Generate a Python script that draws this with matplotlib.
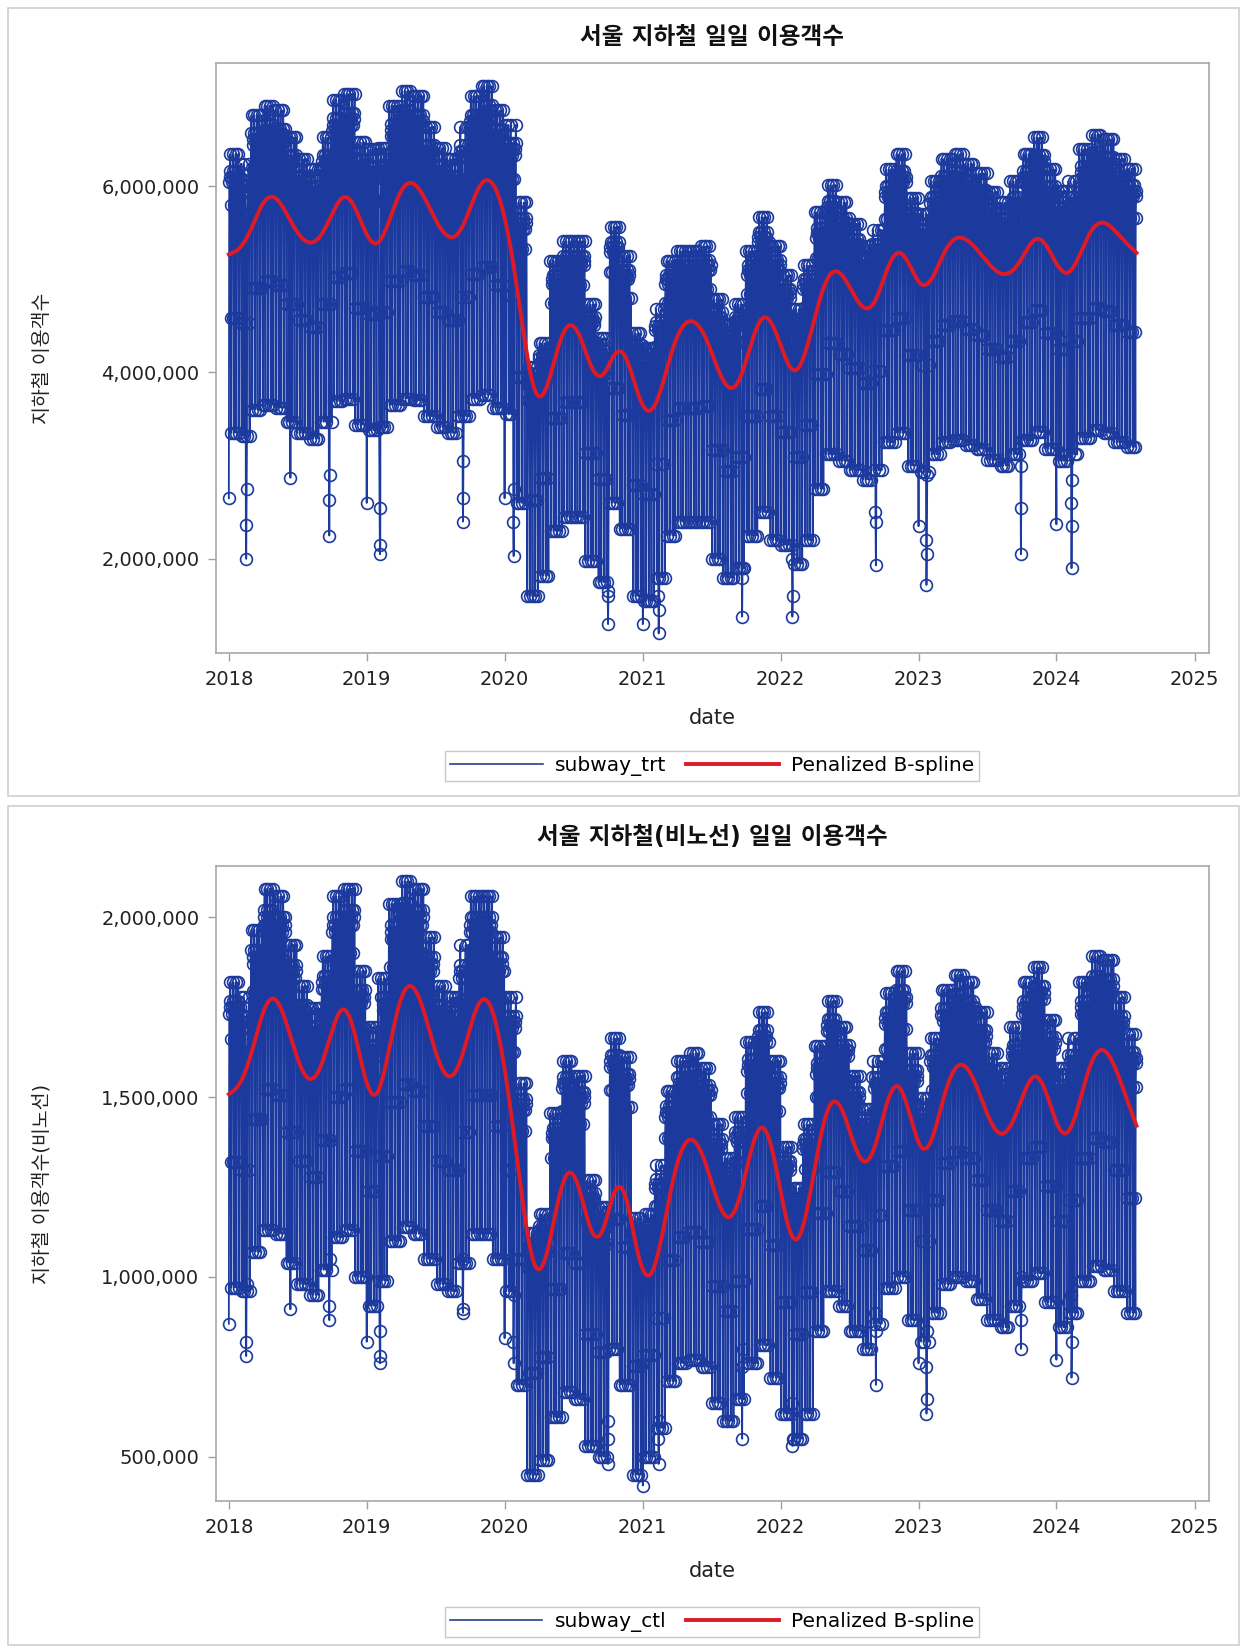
import numpy as np
import matplotlib
matplotlib.use("Agg")
import matplotlib.pyplot as plt
from matplotlib.ticker import FuncFormatter
from matplotlib.patches import Rectangle
from matplotlib.lines import Line2D

plt.rcParams['font.family'] = ['DejaVu Sans', 'Noto Sans CJK KR']

# daily records, 2018-01-01 .. 2024-07-31
dates = np.arange('2018-01-01', '2024-08-01', dtype='datetime64[D]')

# monthly weekday (Tue-Thu) and Sunday levels, millions of riders
trt_weekday = [
    6.10, 6.00, 6.50, 6.60, 6.55, 6.27, 6.05, 5.94, 6.27, 6.66, 6.72, 6.22,
    6.15, 6.16, 6.60, 6.75, 6.70, 6.38, 6.16, 6.05, 6.38, 6.70, 6.80, 6.55,
    6.40, 5.60, 3.90, 4.15, 5.00, 5.20, 5.20, 4.55, 4.20, 5.35, 5.05, 4.25,
    4.10, 4.50, 5.00, 5.10, 5.10, 5.15, 4.60, 4.35, 4.55, 5.10, 5.45, 5.15,
    4.85, 4.50, 4.95, 5.50, 5.78, 5.60, 5.38, 5.15, 5.32, 5.94, 6.10, 5.65,
    5.48, 5.82, 6.05, 6.10, 6.00, 5.90, 5.71, 5.60, 5.82, 6.10, 6.27, 5.94,
    5.72, 5.82, 6.15, 6.30, 6.25, 6.05, 5.95,
]
trt_sunday = [
    3.35, 3.32, 3.60, 3.65, 3.62, 3.47, 3.35, 3.29, 3.47, 3.69, 3.72, 3.44,
    3.38, 3.41, 3.65, 3.72, 3.70, 3.53, 3.41, 3.35, 3.53, 3.72, 3.76, 3.62,
    3.55, 2.60, 1.60, 1.82, 2.30, 2.45, 2.45, 1.98, 1.75, 2.60, 2.32, 1.60,
    1.55, 1.80, 2.25, 2.40, 2.40, 2.40, 2.00, 1.80, 1.90, 2.25, 2.50, 2.20,
    2.15, 1.95, 2.20, 2.75, 3.12, 3.05, 2.95, 2.85, 2.95, 3.25, 3.35, 3.00,
    2.93, 3.12, 3.25, 3.28, 3.22, 3.18, 3.06, 3.00, 3.12, 3.27, 3.36, 3.18,
    3.05, 3.12, 3.30, 3.38, 3.35, 3.25, 3.20,
]
ctl_weekday = [
    1.75, 1.71, 1.89, 2.00, 1.98, 1.85, 1.74, 1.68, 1.82, 1.98, 2.00, 1.78,
    1.63, 1.76, 1.96, 2.02, 2.00, 1.87, 1.74, 1.71, 1.85, 1.98, 1.98, 1.87,
    1.71, 1.48, 1.08, 1.13, 1.40, 1.54, 1.50, 1.22, 1.15, 1.60, 1.55, 1.12,
    1.13, 1.26, 1.46, 1.54, 1.56, 1.52, 1.37, 1.28, 1.39, 1.59, 1.67, 1.54,
    1.31, 1.20, 1.37, 1.58, 1.70, 1.63, 1.50, 1.41, 1.54, 1.72, 1.78, 1.56,
    1.44, 1.60, 1.73, 1.77, 1.75, 1.67, 1.56, 1.52, 1.63, 1.75, 1.79, 1.65,
    1.52, 1.60, 1.75, 1.82, 1.81, 1.71, 1.61,
]
ctl_sunday = [
    0.97, 0.96, 1.07, 1.13, 1.12, 1.04, 0.98, 0.95, 1.02, 1.11, 1.13, 1.00,
    0.92, 0.99, 1.10, 1.14, 1.12, 1.05, 0.98, 0.96, 1.04, 1.12, 1.12, 1.05,
    0.96, 0.70, 0.45, 0.49, 0.61, 0.68, 0.66, 0.53, 0.50, 0.80, 0.70, 0.45,
    0.50, 0.58, 0.71, 0.76, 0.77, 0.75, 0.65, 0.60, 0.66, 0.76, 0.81, 0.72,
    0.62, 0.55, 0.62, 0.85, 0.96, 0.92, 0.85, 0.80, 0.87, 0.97, 1.00, 0.88,
    0.82, 0.90, 0.98, 1.00, 0.99, 0.94, 0.88, 0.86, 0.92, 0.99, 1.01, 0.93,
    0.86, 0.90, 0.99, 1.03, 1.02, 0.96, 0.90,
]

# Mon..Fri relative to the weekday level; Saturday sits between weekday and Sunday
weekday_factor = [0.95, 0.99, 1.00, 1.01, 1.04]
saturday_share = 0.45

# public holidays (New Year, Seollal, Chuseok, ...)
holiday_dates = [
    '2018-01-01', '2018-02-15', '2018-02-16', '2018-02-17', '2018-06-13',
    '2018-09-23', '2018-09-24', '2018-09-25', '2019-01-01', '2019-02-04',
    '2019-02-05', '2019-02-06', '2019-09-12', '2019-09-13', '2019-09-14',
    '2020-01-01', '2020-01-24', '2020-01-25', '2020-01-26', '2020-09-30',
    '2020-10-01', '2020-10-02', '2021-01-01', '2021-02-11', '2021-02-12',
    '2021-02-13', '2021-09-20', '2021-09-21', '2021-09-22', '2022-01-31',
    '2022-02-01', '2022-02-02', '2022-09-09', '2022-09-10', '2022-09-11',
    '2023-01-01', '2023-01-21', '2023-01-22', '2023-01-23', '2023-01-24',
    '2023-09-28', '2023-09-29', '2023-09-30', '2024-01-01', '2024-02-09',
    '2024-02-10', '2024-02-11', '2024-02-12',
]
trt_holiday = [
    2.65, 2.36, 2.00, 2.75, 2.87,
    2.63, 2.25, 2.90, 2.60, 2.55,
    2.05, 2.15, 2.65, 2.40, 3.05,
    2.65, 2.40, 2.03, 2.75, 1.60,
    1.30, 1.65, 1.30, 1.60, 1.20,
    1.45, 1.80, 1.38, 1.90, 2.00,
    1.38, 1.60, 2.50, 1.93, 2.40,
    2.35, 2.20, 1.72, 2.05, 2.90,
    3.00, 2.05, 2.55, 2.37, 2.60,
    1.90, 2.35, 2.85,
]
ctl_holiday = [
    0.87, 0.82, 0.78, 0.98, 0.91,
    0.92, 0.88, 1.05, 0.82, 0.85,
    0.76, 0.78, 0.91, 0.90, 1.05,
    0.83, 0.82, 0.76, 0.95, 0.55,
    0.48, 0.60, 0.42, 0.55, 0.48,
    0.60, 0.75, 0.55, 0.80, 0.65,
    0.53, 0.55, 0.90, 0.70, 0.85,
    0.76, 0.75, 0.62, 0.66, 0.85,
    1.00, 0.80, 0.88, 0.77, 0.95,
    0.72, 0.82, 0.90,
]

BLUE = '#1c3a9e'
RED = '#e01a24'


def build_daily(weekday, sunday, holidays):
    mi = (dates.astype('datetime64[M]') - np.datetime64('2018-01', 'M')).astype(int)
    dow = (dates.astype('int64') + 3) % 7
    wk = np.array(weekday)[mi] * 1e6
    su = np.array(sunday)[mi] * 1e6
    y = np.empty(len(dates))
    for d in range(5):
        m = dow == d
        y[m] = wk[m] * weekday_factor[d]
    m = dow == 5
    y[m] = su[m] + saturday_share * (wk[m] - su[m])
    m = dow == 6
    y[m] = su[m]
    idx = (np.array(holiday_dates, dtype='datetime64[D]') - dates[0]).astype(int)
    y[idx] = np.array(holidays) * 1e6
    return y


def bspline_basis(x, xl, xr, nseg, deg=3):
    dx = (xr - xl) / nseg
    knots = xl + dx * np.arange(-deg, nseg + deg + 1)
    B = ((x[:, None] >= knots[None, :-1]) & (x[:, None] < knots[None, 1:])).astype(float)
    for k in range(1, deg + 1):
        left = (x[:, None] - knots[None, :-(k + 1)]) / (knots[k:-1] - knots[:-(k + 1)])
        right = (knots[None, k + 1:] - x[:, None]) / (knots[k + 1:] - knots[1:-k])
        B = left * B[:, :-1] + right * B[:, 1:]
    return B


def pbspline(y, nseg=80, lam=8.0):
    x = np.arange(len(y), dtype=float)
    B = bspline_basis(x, x[0], x[-1] + 1e-6, nseg)
    D = np.diff(np.eye(B.shape[1]), 2, axis=0)
    coef = np.linalg.solve(B.T @ B + lam * D.T @ D, B.T @ y)
    return B @ coef


W, H = 1245, 1652
fig = plt.figure(figsize=(W / 100, H / 100), dpi=100)

panels = [
    dict(title='서울 지하철 일일 이용객수', ylabel='지하철 이용객수', name='subway_trt',
         weekday=trt_weekday, sunday=trt_sunday, hol=trt_holiday,
         ylim=(0.99e6, 7.32e6), yticks=[2e6, 4e6, 6e6],
         border=(8, 8, 1239, 796), axes=(63, 653), title_y=37, date_y=718, legend_y=766),
    dict(title='서울 지하철(비노선) 일일 이용객수', ylabel='지하철 이용객수(비노선)', name='subway_ctl',
         weekday=ctl_weekday, sunday=ctl_sunday, hol=ctl_holiday,
         ylim=(0.377e6, 2.143e6), yticks=[5e5, 1e6, 1.5e6, 2e6],
         border=(8, 806, 1239, 1645), axes=(866, 1501), title_y=837, date_y=1571, legend_y=1622),
]

ax_left, ax_right = 216, 1209
years = [np.datetime64(f'{yr}-01-01') for yr in range(2018, 2026)]

for p in panels:
    x0, y0, x1, y1 = p['border']
    fig.add_artist(Rectangle((x0 / W, 1 - y1 / H), (x1 - x0) / W, (y1 - y0) / H,
                             transform=fig.transFigure, fill=False,
                             edgecolor='#d0d0d0', lw=1.2))

    top, bot = p['axes']
    ax = fig.add_axes([ax_left / W, 1 - bot / H, (ax_right - ax_left) / W, (bot - top) / H])

    y = build_daily(p['weekday'], p['sunday'], p['hol'])
    fit = pbspline(y)

    ax.plot(dates, y, color=BLUE, lw=1.3, marker='o', ms=8.5, mfc='none',
            mec=BLUE, mew=1.2)
    ax.plot(dates, fit, color=RED, lw=2.8)

    ax.set_xlim(np.datetime64('2017-11-28'), np.datetime64('2025-02-08'))
    ax.set_ylim(*p['ylim'])
    ax.set_xticks(years)
    ax.set_xticklabels([str(yr) for yr in range(2018, 2026)])
    ax.set_yticks(p['yticks'])
    ax.yaxis.set_major_formatter(FuncFormatter(lambda v, pos: f'{int(round(v)):,}'))
    ax.tick_params(axis='both', length=6, width=1, color='#a0a0a0',
                   labelsize=14, labelcolor='#222222', pad=6)
    for sp in ax.spines.values():
        sp.set_color('#a8a8a8')
        sp.set_linewidth(1.2)

    fig.text((ax_left + ax_right) / 2 / W, 1 - p['title_y'] / H, p['title'],
             ha='center', va='center', fontsize=17, fontweight='bold', color='#111111')
    fig.text((ax_left + ax_right) / 2 / W, 1 - p['date_y'] / H, 'date',
             ha='center', va='center', fontsize=15, color='#222222')
    fig.text(42 / W, 1 - (top + bot) / 2 / H, p['ylabel'], rotation=90,
             ha='center', va='center', fontsize=14, color='#222222')

    handles = [Line2D([], [], color='#2b3f8c', lw=1.2),
               Line2D([], [], color=RED, lw=2.8)]
    leg = fig.legend(handles, [p['name'], 'Penalized B-spline'], loc='center',
                     bbox_to_anchor=(712 / W, 1 - p['legend_y'] / H), ncol=2,
                     fontsize=14.5, handlelength=4.6, columnspacing=1.0,
                     handletextpad=0.6, borderpad=0.25, fancybox=False,
                     framealpha=1, edgecolor='#c8c8c8')
    leg.get_frame().set_linewidth(1.0)

fig.savefig('out.png', dpi=100, facecolor='white')
